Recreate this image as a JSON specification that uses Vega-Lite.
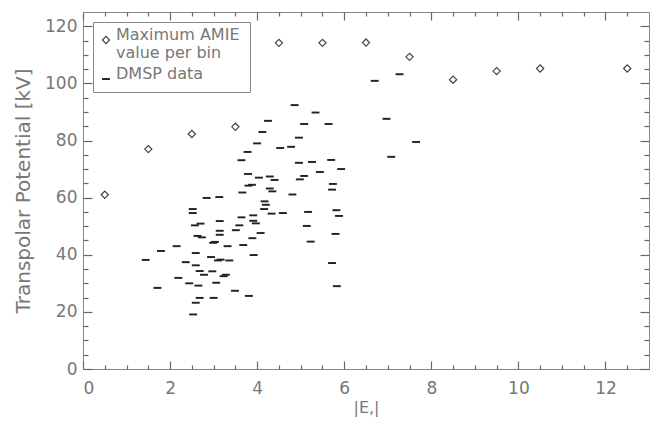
{
  "$schema": "https://vega.github.io/schema/vega-lite/v6.json",
  "width": 566,
  "height": 357,
  "autosize": {"type": "none"},
  "padding": {"left": 83, "top": 12, "right": 1, "bottom": 53},
  "background": "white",
  "config": {
    "view": {"stroke": "#888", "strokeWidth": 1},
    "style": {"guide-label": {"lineHeight": 18}},
    "axis": {
      "domain": false,
      "grid": false,
      "zindex": 1,
      "tickColor": "#666",
      "tickWidth": 1.2,
      "labelColor": "#777",
      "titleColor": "#777",
      "labelFont": "DejaVu Sans",
      "titleFont": "DejaVu Sans",
      "labelFontSize": 17,
      "titleFontSize": 16,
      "titleFontWeight": "normal"
    }
  },
  "data": {
    "values": [
      {"series": "AMIE", "E": 0.5, "V": 61},
      {"series": "AMIE", "E": 1.5, "V": 77},
      {"series": "AMIE", "E": 2.5, "V": 82.3},
      {"series": "AMIE", "E": 3.5, "V": 84.8},
      {"series": "AMIE", "E": 4.5, "V": 114.2},
      {"series": "AMIE", "E": 5.5, "V": 114.2},
      {"series": "AMIE", "E": 6.5, "V": 114.3},
      {"series": "AMIE", "E": 7.5, "V": 109.3},
      {"series": "AMIE", "E": 8.5, "V": 101.3},
      {"series": "AMIE", "E": 9.5, "V": 104.3},
      {"series": "AMIE", "E": 10.5, "V": 105.2},
      {"series": "AMIE", "E": 12.5, "V": 105.2},
      {"series": "DMSP", "E": 1.44, "V": 38.2},
      {"series": "DMSP", "E": 1.71, "V": 28.4},
      {"series": "DMSP", "E": 1.79, "V": 41.3},
      {"series": "DMSP", "E": 2.15, "V": 43.0},
      {"series": "DMSP", "E": 2.19, "V": 31.9},
      {"series": "DMSP", "E": 2.36, "V": 37.4},
      {"series": "DMSP", "E": 2.44, "V": 30.0},
      {"series": "DMSP", "E": 2.52, "V": 54.6},
      {"series": "DMSP", "E": 2.52, "V": 56.0},
      {"series": "DMSP", "E": 2.53, "V": 19.1},
      {"series": "DMSP", "E": 2.57, "V": 50.3},
      {"series": "DMSP", "E": 2.59, "V": 40.6},
      {"series": "DMSP", "E": 2.59, "V": 36.3},
      {"series": "DMSP", "E": 2.59, "V": 23.2},
      {"series": "DMSP", "E": 2.63, "V": 46.6},
      {"series": "DMSP", "E": 2.65, "V": 29.2},
      {"series": "DMSP", "E": 2.68, "V": 34.3},
      {"series": "DMSP", "E": 2.68, "V": 24.9},
      {"series": "DMSP", "E": 2.70, "V": 50.9},
      {"series": "DMSP", "E": 2.73, "V": 46.1},
      {"series": "DMSP", "E": 2.78, "V": 33.0},
      {"series": "DMSP", "E": 2.84, "V": 59.9},
      {"series": "DMSP", "E": 2.94, "V": 39.2},
      {"series": "DMSP", "E": 2.97, "V": 34.2},
      {"series": "DMSP", "E": 2.99, "V": 44.2},
      {"series": "DMSP", "E": 3.00, "V": 24.9},
      {"series": "DMSP", "E": 3.03, "V": 44.5},
      {"series": "DMSP", "E": 3.06, "V": 30.2},
      {"series": "DMSP", "E": 3.10, "V": 38.0},
      {"series": "DMSP", "E": 3.13, "V": 60.2},
      {"series": "DMSP", "E": 3.14, "V": 51.8},
      {"series": "DMSP", "E": 3.14, "V": 47.0},
      {"series": "DMSP", "E": 3.14, "V": 48.4},
      {"series": "DMSP", "E": 3.16, "V": 38.3},
      {"series": "DMSP", "E": 3.23, "V": 32.5},
      {"series": "DMSP", "E": 3.28, "V": 33.0},
      {"series": "DMSP", "E": 3.32, "V": 43.0},
      {"series": "DMSP", "E": 3.36, "V": 38.0},
      {"series": "DMSP", "E": 3.49, "V": 27.4},
      {"series": "DMSP", "E": 3.51, "V": 48.6},
      {"series": "DMSP", "E": 3.59, "V": 50.3},
      {"series": "DMSP", "E": 3.64, "V": 53.1},
      {"series": "DMSP", "E": 3.64, "V": 73.1},
      {"series": "DMSP", "E": 3.66, "V": 61.8},
      {"series": "DMSP", "E": 3.68, "V": 43.4},
      {"series": "DMSP", "E": 3.78, "V": 76.0},
      {"series": "DMSP", "E": 3.79, "V": 68.3},
      {"series": "DMSP", "E": 3.81, "V": 25.6},
      {"series": "DMSP", "E": 3.80, "V": 64.2},
      {"series": "DMSP", "E": 3.88, "V": 64.5},
      {"series": "DMSP", "E": 3.89, "V": 45.8},
      {"series": "DMSP", "E": 3.91, "V": 53.8},
      {"series": "DMSP", "E": 3.91, "V": 51.9},
      {"series": "DMSP", "E": 3.92, "V": 39.9},
      {"series": "DMSP", "E": 3.97, "V": 51.0},
      {"series": "DMSP", "E": 4.00, "V": 79.0},
      {"series": "DMSP", "E": 4.04, "V": 67.0},
      {"series": "DMSP", "E": 4.08, "V": 47.6},
      {"series": "DMSP", "E": 4.12, "V": 83.0},
      {"series": "DMSP", "E": 4.16, "V": 56.0},
      {"series": "DMSP", "E": 4.17, "V": 58.7},
      {"series": "DMSP", "E": 4.20, "V": 57.5},
      {"series": "DMSP", "E": 4.25, "V": 86.9},
      {"series": "DMSP", "E": 4.29, "V": 63.2},
      {"series": "DMSP", "E": 4.29, "V": 67.4},
      {"series": "DMSP", "E": 4.35, "V": 62.2},
      {"series": "DMSP", "E": 4.33, "V": 54.4},
      {"series": "DMSP", "E": 4.40, "V": 66.2},
      {"series": "DMSP", "E": 4.53, "V": 77.4},
      {"series": "DMSP", "E": 4.59, "V": 54.6},
      {"series": "DMSP", "E": 4.78, "V": 77.8},
      {"series": "DMSP", "E": 4.81, "V": 61.1},
      {"series": "DMSP", "E": 4.86, "V": 92.4},
      {"series": "DMSP", "E": 4.96, "V": 81.0},
      {"series": "DMSP", "E": 4.96, "V": 72.2},
      {"series": "DMSP", "E": 4.98, "V": 66.4},
      {"series": "DMSP", "E": 5.08, "V": 67.6},
      {"series": "DMSP", "E": 5.08, "V": 85.8},
      {"series": "DMSP", "E": 5.14, "V": 50.1},
      {"series": "DMSP", "E": 5.17, "V": 55.0},
      {"series": "DMSP", "E": 5.23, "V": 44.6},
      {"series": "DMSP", "E": 5.26, "V": 72.5},
      {"series": "DMSP", "E": 5.34, "V": 89.8},
      {"series": "DMSP", "E": 5.44, "V": 69.0},
      {"series": "DMSP", "E": 5.64, "V": 85.8},
      {"series": "DMSP", "E": 5.70, "V": 73.2},
      {"series": "DMSP", "E": 5.72, "V": 62.8},
      {"series": "DMSP", "E": 5.72, "V": 37.1},
      {"series": "DMSP", "E": 5.74, "V": 64.8},
      {"series": "DMSP", "E": 5.80, "V": 47.3},
      {"series": "DMSP", "E": 5.82, "V": 55.6},
      {"series": "DMSP", "E": 5.83, "V": 29.0},
      {"series": "DMSP", "E": 5.88, "V": 53.6},
      {"series": "DMSP", "E": 5.93, "V": 70.0},
      {"series": "DMSP", "E": 6.70, "V": 100.9},
      {"series": "DMSP", "E": 6.97, "V": 87.6},
      {"series": "DMSP", "E": 7.08, "V": 74.3},
      {"series": "DMSP", "E": 7.27, "V": 103.2},
      {"series": "DMSP", "E": 7.65, "V": 79.5}
    ]
  },
  "layer": [
    {
      "mark": {"type": "point", "filled": true, "size": 52, "strokeWidth": 1.2, "opacity": 1},
      "encoding": {
        "x": {
          "field": "E", "type": "quantitative",
          "scale": {"domain": [0, 13], "nice": false, "zero": false},
          "axis": {"orient": "bottom", "values": [0, 2, 4, 6, 8, 10, 12], "ticks": false, "tickSize": 0, "labelPadding": 11, "title": "|E,|", "titlePadding": 3}
        },
        "y": {
          "field": "V", "type": "quantitative",
          "scale": {"domain": [0, 125], "nice": false, "zero": false},
          "axis": {"orient": "left", "values": [0, 20, 40, 60, 80, 100, 120], "ticks": false, "tickSize": 0, "labelPadding": 6, "title": "Transpolar Potential [kV]", "titleFontSize": 20, "titlePadding": 11}
        },
        "shape": {
          "field": "series", "type": "nominal",
          "scale": {"domain": ["AMIE", "DMSP"], "range": ["diamond", "M-0.93,-0.1H0.93V0.1H-0.93Z"]},
          "legend": {
            "title": null, "orient": "top-left", "offset": 10,
            "strokeColor": "#888", "padding": 10,
            "labelFont": "DejaVu Sans", "labelFontSize": 16, "labelColor": "#777",
            "labelLimit": 300, "labelOffset": 2, "labelBaseline": "alphabetic",
            "symbolOffset": -5,
            "symbolSize": 52, "symbolStrokeWidth": 1.2,
            "rowPadding": 5,
            "labelExpr": "datum.value == 'AMIE' ? ['Maximum AMIE', 'value per bin'] : 'DMSP data'"
          }
        },
        "fill": {
          "field": "series", "type": "nominal",
          "scale": {"domain": ["AMIE", "DMSP"], "range": ["white", "#222"]}
        },
        "stroke": {
          "field": "series", "type": "nominal",
          "scale": {"domain": ["AMIE", "DMSP"], "range": ["#444", "#222"]}
        }
      }
    },
    {
      "mark": {"type": "point", "opacity": 0},
      "encoding": {
        "x": {"field": "E", "type": "quantitative",
          "axis": {"orient": "bottom", "values": [0, 2, 4, 6, 8, 10, 12], "offset": -8, "tickSize": 8, "labels": false, "title": null}},
        "y": {"field": "V", "type": "quantitative",
          "axis": {"orient": "left", "values": [0, 20, 40, 60, 80, 100, 120], "offset": -9, "tickSize": 9, "labels": false, "title": null}}
      }
    },
    {
      "mark": {"type": "point", "opacity": 0},
      "encoding": {
        "x": {"field": "E", "type": "quantitative",
          "axis": {"orient": "bottom", "values": [0.5,1,1.5,2.5,3,3.5,4.5,5,5.5,6.5,7,7.5,8.5,9,9.5,10.5,11,11.5,12.5], "offset": -4, "tickSize": 4, "labels": false, "title": null}},
        "y": {"field": "V", "type": "quantitative",
          "axis": {"orient": "left", "values": [5,10,15,25,30,35,45,50,55,65,70,75,85,90,95,105,110,115], "offset": -5, "tickSize": 5, "labels": false, "title": null}}
      }
    },
    {
      "mark": {"type": "point", "opacity": 0},
      "encoding": {
        "x": {"field": "E", "type": "quantitative",
          "axis": {"orient": "top", "values": [0, 2, 4, 6, 8, 10, 12], "offset": -8, "tickSize": 8, "labels": false, "title": null}},
        "y": {"field": "V", "type": "quantitative",
          "axis": {"orient": "right", "values": [0, 20, 40, 60, 80, 100, 120], "offset": -9, "tickSize": 9, "labels": false, "title": null}}
      }
    },
    {
      "mark": {"type": "point", "opacity": 0},
      "encoding": {
        "x": {"field": "E", "type": "quantitative",
          "axis": {"orient": "top", "values": [0.5,1,1.5,2.5,3,3.5,4.5,5,5.5,6.5,7,7.5,8.5,9,9.5,10.5,11,11.5,12.5], "offset": -4, "tickSize": 4, "labels": false, "title": null}},
        "y": {"field": "V", "type": "quantitative",
          "axis": {"orient": "right", "values": [5,10,15,25,30,35,45,50,55,65,70,75,85,90,95,105,110,115], "offset": -5, "tickSize": 5, "labels": false, "title": null}}
      }
    }
  ],
  "resolve": {"axis": {"x": "independent", "y": "independent"}}
}
